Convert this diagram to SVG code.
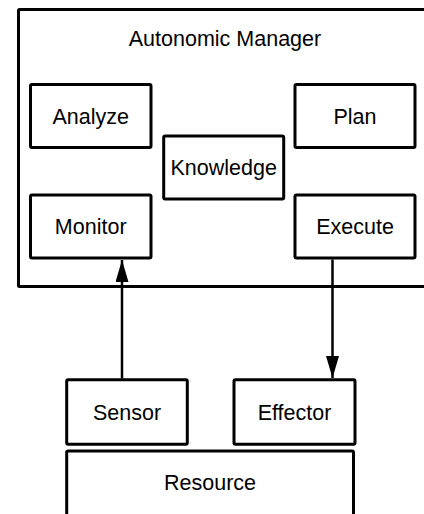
<svg xmlns="http://www.w3.org/2000/svg" width="424" height="514" viewBox="0 0 424 514">
<style>
.box{fill:#fff;stroke:#000;stroke-width:3;stroke-linejoin:round}
.t{font-family:"Liberation Sans",Arial,sans-serif;font-size:21.5px;fill:#000;text-anchor:middle}
.c{stroke:#000;stroke-width:2.5;fill:none}
</style>
<defs>
<marker id="ah" markerWidth="22" markerHeight="13" refX="22" refY="6.5" orient="auto" markerUnits="userSpaceOnUse" viewBox="0 0 22 13">
<path d="M0,0 L22,6.5 L0,13 Z" fill="#000"/>
</marker>
</defs>
<g id="manager">
<rect class="box" x="18.5" y="9.5" width="420" height="277" rx="1"/>
<text class="t" x="225" y="46">Autonomic Manager</text>
</g>
<g id="analyze">
<rect class="box" x="30.5" y="84.5" width="120.5" height="63" rx="1.5"/>
<text class="t" x="90.7" y="124">Analyze</text>
</g>
<g id="plan">
<rect class="box" x="295" y="84.5" width="120" height="63" rx="1.5"/>
<text class="t" x="355" y="124">Plan</text>
</g>
<g id="knowledge">
<rect class="box" x="163.7" y="136" width="120" height="63" rx="1.5"/>
<text class="t" x="223.7" y="175">Knowledge</text>
</g>
<g id="monitor">
<rect class="box" x="30.5" y="195" width="120.5" height="63" rx="1.5"/>
<text class="t" x="90.7" y="234">Monitor</text>
</g>
<g id="execute">
<rect class="box" x="295" y="195" width="120" height="63" rx="1.5"/>
<text class="t" x="355" y="234">Execute</text>
</g>
<g id="resource">
<rect class="box" x="66.7" y="451" width="286.8" height="80" rx="1.5"/>
<text class="t" x="210" y="490">Resource</text>
</g>
<g id="sensor">
<rect class="box" x="66.7" y="379.7" width="120.6" height="64.5" rx="1.5"/>
<text class="t" x="127" y="420">Sensor</text>
</g>
<g id="effector">
<rect class="box" x="234" y="379.7" width="121" height="64.5" rx="1.5"/>
<text class="t" x="294.5" y="420">Effector</text>
</g>
<g id="connectors">
<line class="c" x1="122" y1="378.5" x2="122" y2="260" marker-end="url(#ah)"/>
<line class="c" x1="332.5" y1="259.5" x2="332.5" y2="378" marker-end="url(#ah)"/>
</g>
</svg>
